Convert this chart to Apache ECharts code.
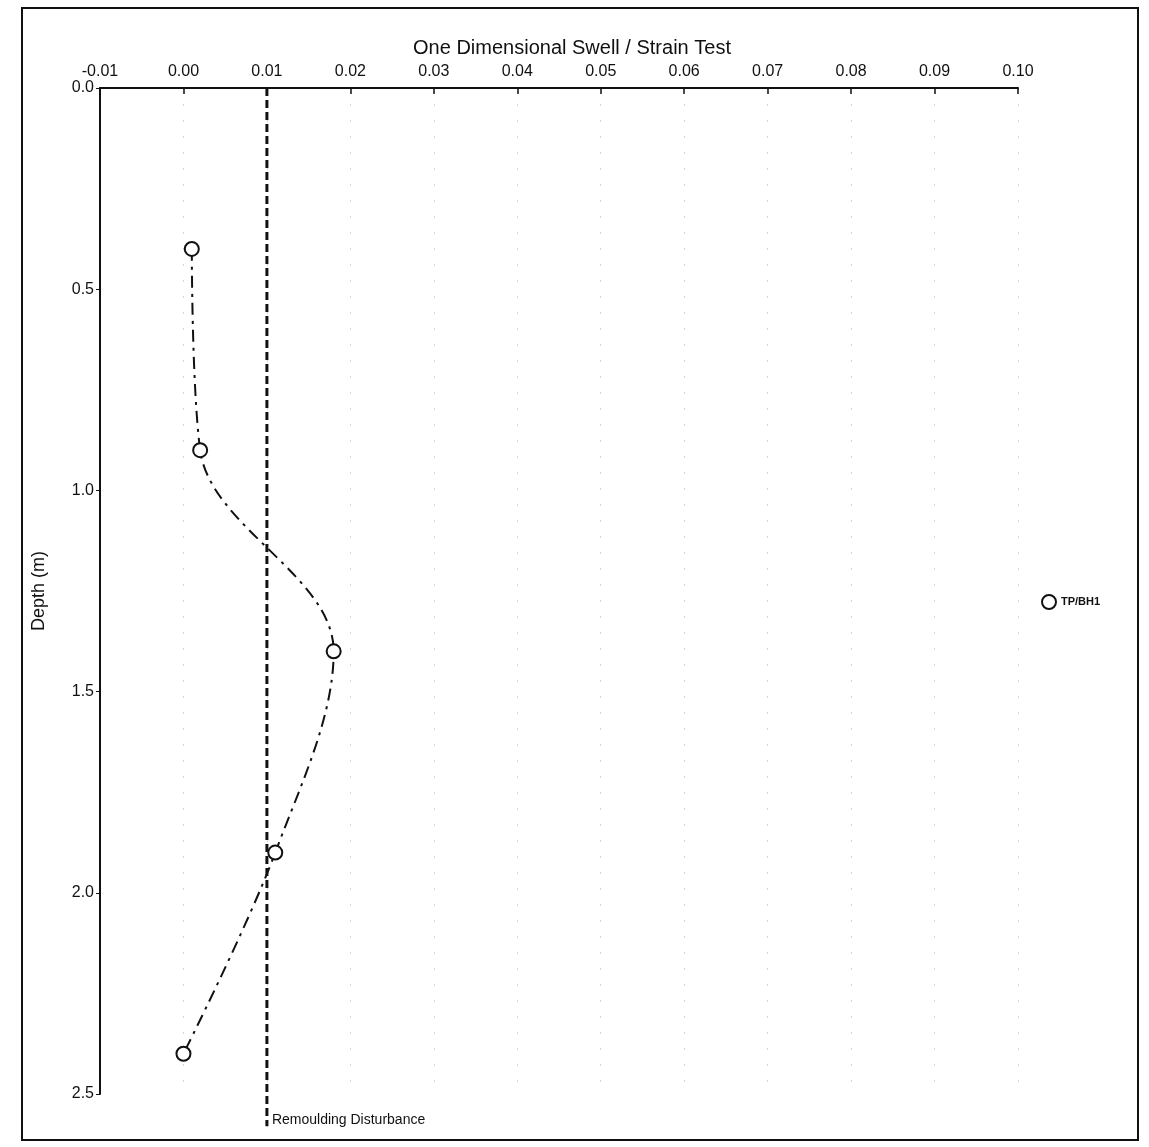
<!DOCTYPE html>
<html>
<head>
<meta charset="utf-8">
<script src="https://cdn.jsdelivr.net/npm/echarts@6/dist/echarts.min.js"></script>
<style>html,body{margin:0;padding:0;background:#fff}#c{width:1149px;height:1147px}</style>
</head>
<body>
<div id="c"></div>
<script>
// Data
var depths = [0.4, 0.9, 1.4, 1.9, 2.4];
var swellStrain = [0.001, 0.002, 0.018, 0.011, 0.000];
var seriesName = 'TP/BH1';
var remouldX = 0.01;
var remouldDepths = [0.0, 2.58];
var remouldLabel = 'Remoulding Disturbance';
var xTicks = {min: -0.01, max: 0.10, interval: 0.01};
var yTicks = {min: 0.0, max: 2.5, interval: 0.5};

var chart = echarts.init(document.getElementById('c'));
var font = 'Liberation Sans, Arial, sans-serif';
var pts = depths.map(function (d, i) { return [swellStrain[i], d]; });
var remould = remouldDepths.map(function (d, i) {
  var item = {value: [remouldX, d]};
  if (i === remouldDepths.length - 1) {
    item.label = {show: true, position: 'right', formatter: remouldLabel,
      color: '#111', fontFamily: font, fontSize: 14, offset: [0, -6]};
  }
  return item;
});

chart.setOption({
  backgroundColor: '#fff',
  animation: false,
  title: {
    text: 'One Dimensional Swell / Strain Test',
    left: 567, top: 33, textAlign: 'center',
    textStyle: {fontFamily: font, fontWeight: 'normal', fontSize: 20, color: '#111'}
  },
  legend: {
    data: [{name: seriesName, icon: 'emptyCircle'}],
    left: 1036, top: 589, itemWidth: 14, itemHeight: 14, itemGap: 4,
    textStyle: {fontFamily: font, fontSize: 11, fontWeight: 'bold', color: '#111'}
  },
  grid: {left: 100, top: 88, width: 918, height: 1006, containLabel: false},
  xAxis: {
    type: 'value', position: 'top',
    min: xTicks.min, max: xTicks.max, interval: xTicks.interval,
    axisLine: {show: true, onZero: false, lineStyle: {color: '#111', width: 2}},
    axisTick: {show: true, inside: true, length: 6, lineStyle: {color: '#111', width: 1.5}},
    axisLabel: {fontFamily: font, fontSize: 16, color: '#111', margin: 8,
      formatter: function (v) { return v.toFixed(2); }},
    splitLine: {show: true, lineStyle: {color: '#d8d8d8', type: [2, 14], width: 1}}
  },
  yAxis: {
    type: 'value', inverse: true,
    min: yTicks.min, max: yTicks.max, interval: yTicks.interval,
    name: 'Depth (m)', nameLocation: 'middle', nameGap: 52, nameRotate: 90,
    nameTextStyle: {fontFamily: font, fontSize: 18, color: '#111'},
    axisLine: {show: true, onZero: false, lineStyle: {color: '#111', width: 2}},
    axisTick: {show: true, length: 4, lineStyle: {color: '#111'}},
    axisLabel: {fontFamily: font, fontSize: 16, color: '#111', margin: 6,
      formatter: function (v) { return v.toFixed(1); }},
    splitLine: {show: false}
  },
  graphic: [{
    type: 'rect', shape: {x: 22, y: 8, width: 1116, height: 1132},
    style: {fill: 'none', stroke: '#111', lineWidth: 2}, silent: true
  }],
  series: [
    {
      name: seriesName, type: 'line', data: pts, smooth: 0.35,
      symbol: 'emptyCircle', symbolSize: 14,
      itemStyle: {color: '#111', borderWidth: 2},
      lineStyle: {color: '#111', width: 2, type: [12, 6, 3, 6]}
    },
    {
      name: 'remould', type: 'line', data: remould, clip: false,
      symbol: 'circle', symbolSize: 0,
      lineStyle: {color: '#111', width: 3, type: [8, 4]},
      itemStyle: {color: '#111'}
    }
  ]
});
</script>
</body>
</html>
